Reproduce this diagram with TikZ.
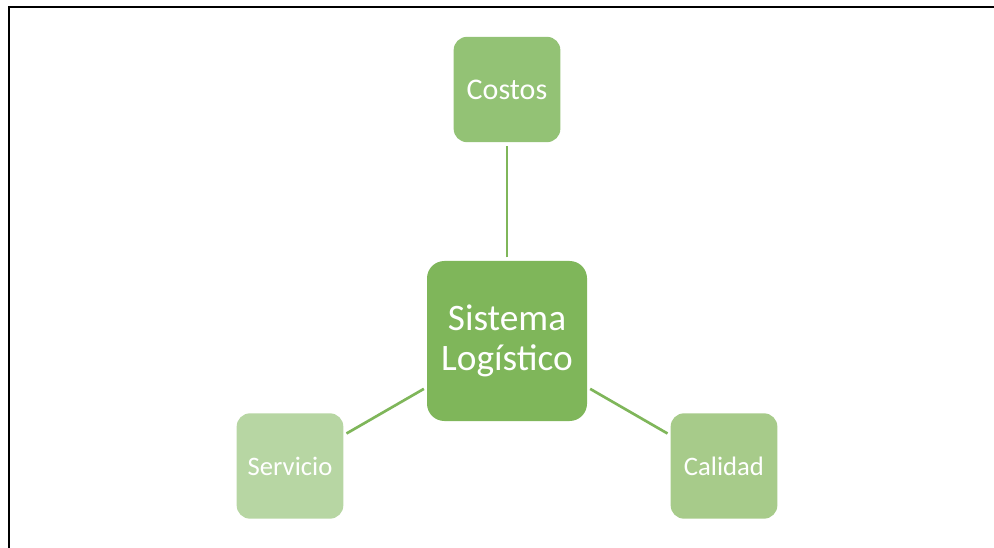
\documentclass[tikz,border=0pt]{standalone}
\usepackage{fontspec}
\setmainfont{Carlito}
\definecolor{hubgreen}{RGB}{127,182,90}
\definecolor{costgreen}{RGB}{147,194,117}
\definecolor{qualgreen}{RGB}{167,203,138}
\definecolor{servgreen}{RGB}{183,214,163}
\begin{document}
\begin{tikzpicture}[x=0.75pt,y=-0.75pt,
  leaf/.style={rectangle,rounded corners=10pt,minimum width=80pt,minimum height=79pt,
    inner sep=0pt,text=white,font=\fontsize{20}{24}\selectfont,align=center},
  hub/.style={rectangle,rounded corners=13pt,minimum width=120pt,minimum height=120pt,
    inner sep=0pt,text=white,font=\fontsize{28}{29.5}\selectfont,align=center,fill=hubgreen},
  spoke/.style={draw=hubgreen,line width=2pt,shorten <=2.5pt,shorten >=2.5pt}]
  \useasboundingbox (0,0) rectangle (994,548);
  % page frame (left and top edges)
  \draw[line width=1.6pt,black] (9,548) -- (9,7) -- (994,7);
  % centre and the three surrounding factors
  \node[hub] (sys) at (507,341) {Sistema\\Logístico};
  \node[leaf,fill=costgreen,font=\fontsize{22.5}{26}\selectfont] (cost) at (507,89.5) {Costos};
  \node[leaf,fill=servgreen] (serv) at (290,466) {Servicio};
  \node[leaf,fill=qualgreen] (qual) at (724,466) {Calidad};
  % connectors
  \draw[spoke] (sys) -- (cost);
  \draw[spoke] (sys) -- (serv);
  \draw[spoke] (sys) -- (qual);
\end{tikzpicture}
\end{document}
